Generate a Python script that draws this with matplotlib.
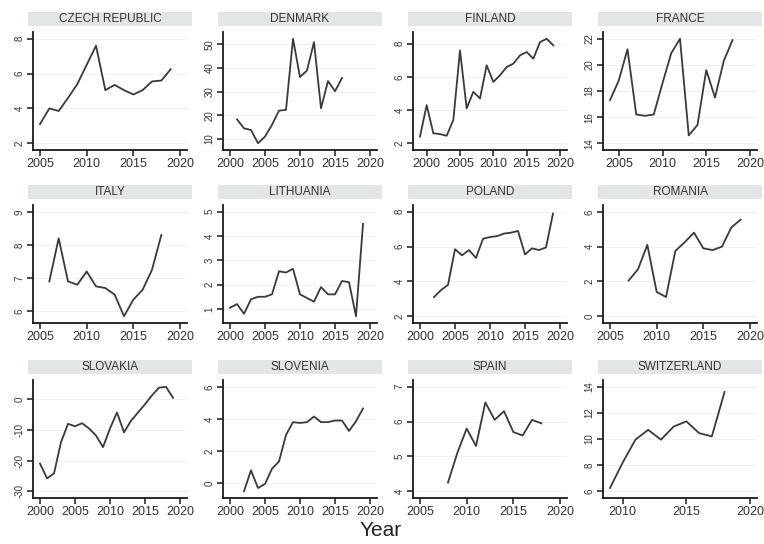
import matplotlib

matplotlib.use("Agg")
import matplotlib.pyplot as plt
from matplotlib.patches import Rectangle

plt.rcParams["font.family"] = ["Liberation Sans", "DejaVu Sans"]

countries = ["CZECH REPUBLIC", "DENMARK", "FINLAND", "FRANCE",
             "ITALY", "LITHUANIA", "POLAND", "ROMANIA",
             "SLOVAKIA", "SLOVENIA", "SPAIN", "SWITZERLAND"]

first_year = [2005, 2001, 1999, 2004, 2006, 2000, 2002, 2007, 2000, 2002, 2008, 2009]

czech = [3.1, 4.0, 3.85, 4.6, 5.4, 6.5, 7.6, 5.05, 5.35, 5.05, 4.8, 5.05, 5.55, 5.6, 6.25]
denmark = [18.3, 14.5, 13.8, 8.2, 11.0, 16.0, 22.0, 22.3, 52.4, 36.2, 39.0, 51.0, 23.0, 34.5, 30.2, 35.8]
finland = [2.4, 4.3, 2.6, 2.55, 2.45, 3.4, 7.6, 4.1, 5.1, 4.7, 6.7, 5.7, 6.1, 6.6, 6.8, 7.3, 7.5, 7.1, 8.1, 8.3, 7.9]
france = [17.3, 18.8, 21.2, 16.2, 16.1, 16.2, 18.6, 20.9, 22.0, 14.6, 15.4, 19.6, 17.5, 20.3, 21.9]
italy = [6.9, 8.2, 6.9, 6.8, 7.2, 6.75, 6.7, 6.5, 5.85, 6.35, 6.65, 7.25, 8.3]
lithuania = [1.05, 1.2, 0.8, 1.4, 1.5, 1.5, 1.6, 2.55, 2.5, 2.65, 1.6, 1.45, 1.3, 1.9, 1.6, 1.6, 2.15, 2.1, 0.7, 4.5]
poland = [3.1, 3.5, 3.8, 5.85, 5.5, 5.8, 5.35, 6.45, 6.55, 6.6, 6.75, 6.8, 6.9, 5.55, 5.9, 5.8, 5.95, 7.9]
romania = [2.05, 2.7, 4.1, 1.4, 1.1, 3.75, 4.25, 4.8, 3.9, 3.8, 4.0, 5.1, 5.55]
slovakia = [-21.0, -25.8, -24.2, -14.0, -8.0, -8.8, -7.8, -9.5, -11.8, -15.6, -9.5, -4.3, -10.8, -7.0,
            -4.3, -1.6, 1.3, 3.8, 4.1, 0.5]
slovenia = [-0.5, 0.8, -0.3, -0.05, 0.9, 1.35, 3.0, 3.8, 3.75, 3.8, 4.15, 3.8, 3.8, 3.9, 3.9, 3.25, 3.85, 4.65]
spain = [4.25, 5.1, 5.8, 5.3, 6.55, 6.05, 6.3, 5.7, 5.6, 6.05, 5.95]
switzerland = [6.25, 8.2, 9.95, 10.7, 9.95, 10.95, 11.35, 10.45, 10.2, 13.6]

series = [czech, denmark, finland, france, italy, lithuania,
          poland, romania, slovakia, slovenia, spain, switzerland]

y_ticks = [[2, 4, 6, 8], [10, 20, 30, 40, 50], [2, 4, 6, 8], [14, 16, 18, 20, 22],
           [6, 7, 8, 9], [1, 2, 3, 4, 5], [2, 4, 6, 8], [0, 2, 4, 6],
           [-30, -20, -10, 0], [0, 2, 4, 6], [4, 5, 6, 7], [6, 8, 10, 12, 14]]
x_tick_start = [2005, 2000, 2000, 2005, 2005, 2000, 2000, 2005, 2000, 2000, 2005, 2010]

W, H = 764, 544
fig = plt.figure(figsize=(W / 100, H / 100), dpi=100)
fig.patch.set_facecolor("white")

col_left = [33, 223, 413, 603]
row_top = [32, 205, 380]
aw, ah = 154, 118

for i, name in enumerate(countries):
    r, c = divmod(i, 4)
    ax = fig.add_axes([col_left[c] / W, 1 - (row_top[r] + ah) / H, aw / W, ah / H])
    vals = series[i]
    years = list(range(first_year[i], first_year[i] + len(vals)))
    ax.plot(years, vals, color="#3a3a3a", lw=1.3)

    xt = list(range(x_tick_start[i], 2021, 5))
    x0, x1 = min(xt[0], years[0]), max(xt[-1], years[-1])
    mx = 0.05 * (x1 - x0)
    ax.set_xlim(x0 - mx, x1 + mx)
    ax.set_xticks(xt)

    yt = y_ticks[i]
    y0, y1 = min(yt[0], min(vals)), max(yt[-1], max(vals))
    my = 0.065 * (y1 - y0)
    ax.set_ylim(y0 - my, y1 + my)
    ax.set_yticks(yt)
    ax.set_yticklabels([str(v) for v in yt], rotation=90, va="center")
    for v in yt:
        ax.axhline(v, color="#efefef", lw=0.6, zorder=0)

    for s in ("top", "right"):
        ax.spines[s].set_visible(False)
    for s in ("left", "bottom"):
        ax.spines[s].set_linewidth(1.3)
        ax.spines[s].set_color("#1a1a1a")
    ax.tick_params(axis="x", labelsize=9, length=4, width=1.1, colors="#1a1a1a",
                   labelcolor="#333333", pad=2)
    ax.tick_params(axis="y", labelsize=7, length=4, width=1.1, colors="#1a1a1a",
                   labelcolor="#333333", pad=2)

    band = Rectangle((-0.03, 1.05), 1.06, 0.12, transform=ax.transAxes,
                     facecolor="#e3e6e6", edgecolor="none", clip_on=False)
    ax.add_patch(band)
    ax.text(0.5, 1.11, name, transform=ax.transAxes, ha="center", va="center",
            fontsize=8.5, color="#333333")

fig.text(381 / W, 1 - 530 / H, "Year", ha="center", va="center", fontsize=15, color="#222222")

fig.savefig("out.png", dpi=100, facecolor="white")
